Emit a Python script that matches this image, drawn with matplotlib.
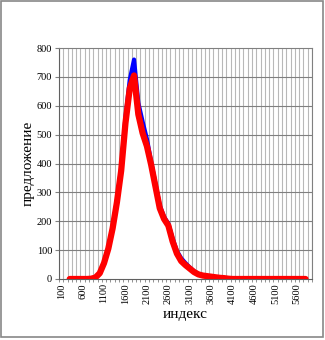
import numpy as np
import matplotlib
matplotlib.use("Agg")
import matplotlib.pyplot as plt
from matplotlib.patches import Rectangle

# категории индекса: 100 ... 5900 шаг 100
categories = list(range(100, 6000, 100))

# значения рядов начиная с категории 300 и до 5800
red_values = [0, 0, 0, 0, 0, 1, 5, 20, 55, 105, 175, 265, 375, 540, 660, 705,
              570, 505, 460, 395, 320, 245, 208, 185, 130, 88, 62, 48, 36, 24,
              16, 12, 10, 8, 6, 4, 3, 1] + [0] * 18
blue_values = [0, 0, 0, 0, 0, 1, 5, 20, 55, 108, 180, 272, 385, 560, 690, 760,
               610, 545, 485, 405, 330, 255, 215, 192, 140, 97, 72, 55, 40, 27,
               18, 13, 9, 5, 2, 0, 0, 0] + [0] * 18

tick_labels = [str(c) for c in categories[::5]]

start = categories.index(300)
idx = np.arange(start, start + len(red_values))

plt.rcParams['font.family'] = ['Liberation Serif', 'DejaVu Serif']

fig = plt.figure(figsize=(3.25, 3.40), dpi=100)
ax = fig.add_axes([59 / 325, 1 - 279 / 340, 253 / 325, 231 / 340])

n = len(categories)
ax.set_xlim(-0.5, n - 0.5)
ax.set_ylim(0, 800)

# сетка
for b in np.arange(-0.5, n, 1.0):
    ax.axvline(b, color='#b8b8b8', lw=0.8, zorder=0)
for y in range(100, 800, 100):
    ax.axhline(y, color='#7f7f7f', lw=0.8, zorder=0)

# белая заливка под кривой
ax.fill_between(idx, 0, np.maximum(red_values, blue_values), color='white',
                lw=0, zorder=1)

ax.plot(idx, blue_values, color='#0000ff', lw=3.0, zorder=2,
        solid_capstyle='round', solid_joinstyle='round')
ax.plot(idx, red_values, color='#ff0000', lw=4.5, zorder=3,
        solid_capstyle='round', solid_joinstyle='round')

ax.set_xticks(np.arange(0, n, 5))
ax.set_xticklabels(tick_labels, rotation=90, fontsize=7.5)
ax.set_xticks(np.arange(-0.5, n, 1.0), minor=True)
ax.tick_params(axis='x', which='major', length=0, pad=3)
ax.tick_params(axis='x', which='minor', length=2.5, color='#808080')
ax.set_yticks(range(0, 801, 100))
ax.tick_params(axis='y', labelsize=7.5, length=3, color='#808080', pad=2)

for s in ax.spines.values():
    s.set_color('#808080')
    s.set_linewidth(0.8)
ax.spines['bottom'].set_color('#606060')
ax.spines['left'].set_color('#606060')

ax.set_xlabel('индекс', fontsize=11, labelpad=3)
ax.set_ylabel('предложение', fontsize=11, labelpad=1)

fig.patches.append(Rectangle((1 / 325, 3 / 340), 322 / 325, 336 / 340,
                             transform=fig.transFigure, fill=False,
                             edgecolor='#888888', lw=1.2))

fig.savefig('out.png', dpi=100)
